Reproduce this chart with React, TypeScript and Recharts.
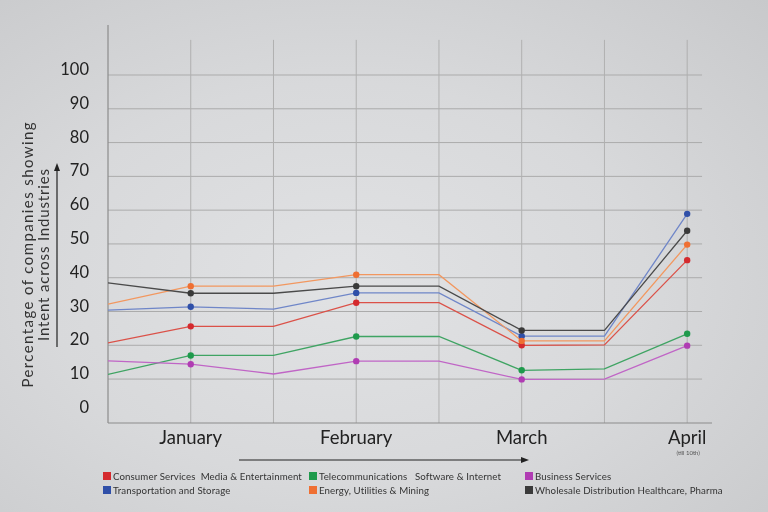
import { LineChart, Line, XAxis, YAxis, ReferenceLine } from 'recharts';

// x positions: 0 = axis start, odd = month, even = end of flat stretch
const xs = [0, 1, 2, 3, 4, 5, 6, 7];
const monthTicks = [1, 3, 5, 7];
const monthNames: Record<number, string> = { 1: 'January', 3: 'February', 5: 'March', 7: 'April' };
const yTicks = [0, 10, 20, 30, 40, 50, 60, 70, 80, 90, 100];
const gridValues = [10, 20, 30, 40, 50, 60, 70, 80, 90, 100];
const vGrid = [1, 2, 3, 4, 5, 6, 7];

const consumer = [20.7, 25.6, 25.6, 32.6, 32.6, 20, 20.1, 45.2];
const telecom = [11.4, 17, 17, 22.6, 22.6, 12.6, 13, 23.4];
const business = [15.4, 14.4, 11.5, 15.3, 15.3, 9.9, 10, 19.9];
const transport = [30.4, 31.4, 30.7, 35.5, 35.5, 22.7, 22.7, 58.9];
const energy = [32.2, 37.5, 37.5, 40.9, 40.9, 21.3, 21.3, 49.8];
const wholesale = [38.5, 35.4, 35.4, 37.5, 37.5, 24.4, 24.4, 53.9];

const series = [
  { key: 'consumer', name: 'Consumer Services  Media & Entertainment', values: consumer, line: '#db5148', dot: '#d42a2e' },
  { key: 'telecom', name: 'Telecommunications   Software & Internet', values: telecom, line: '#3fa463', dot: '#1f9a4c' },
  { key: 'business', name: 'Business Services', values: business, line: '#c065c6', dot: '#b03cb3' },
  { key: 'transport', name: 'Transportation and Storage', values: transport, line: '#6f86c8', dot: '#2f4fa8' },
  { key: 'energy', name: 'Energy, Utilities & Mining', values: energy, line: '#f2975f', dot: '#ef6f32' },
  { key: 'wholesale', name: 'Wholesale Distribution Healthcare, Pharma', values: wholesale, line: '#4a4a4a', dot: '#3a3a3a' },
];

const data = xs.map((x, i) => {
  const row: Record<string, number> = { x };
  series.forEach((s) => {
    row[s.key] = s.values[i];
  });
  return row;
});

const FONT = 'Lato, "Open Sans", sans-serif';

const MonthTick = ({ x, y, payload }: any) => (
  <g>
    <text x={x} y={y + 6} textAnchor="middle" dominantBaseline="central" fontSize={18.5} fill="#222" fontFamily={FONT}>
      {monthNames[payload.value]}
    </text>
    {payload.value === 7 && (
      <text x={x + 1} y={y + 21} textAnchor="middle" dominantBaseline="central" fontSize={6} fill="#555" fontFamily={FONT}>
        (till 10th)
      </text>
    )}
  </g>
);

const ValueTick = ({ y, payload }: any) => (
  <text x={89} y={y - 6} textAnchor="end" dominantBaseline="central" fontSize={16.5} fill="#222" fontFamily={FONT}>
    {payload.value}
  </text>
);

const YTitle = () => (
  <g fontFamily={FONT} fill="#333" fontSize={15}>
    <text transform="translate(27,255) rotate(-90)" textAnchor="middle" dominantBaseline="central" textLength={265} lengthAdjust="spacing">
      Percentage of companies  showing
    </text>
    <text transform="translate(43,255) rotate(-90)" textAnchor="middle" dominantBaseline="central" textLength={172} lengthAdjust="spacing">
      Intent across Industries
    </text>
    <line x1={57} y1={347} x2={57} y2={170} stroke="#222" strokeWidth={1.2} />
    <path d="M57,163 L54,171 L60,171 Z" fill="#222" />
  </g>
);

const XArrow = () => (
  <g>
    <line x1={239} y1={460} x2={521} y2={460} stroke="#222" strokeWidth={1.2} />
    <path d="M529,460 L521,457 L521,463 Z" fill="#222" />
  </g>
);

const legendPos = [
  { left: 103, top: 471 },
  { left: 309, top: 471 },
  { left: 525, top: 471 },
  { left: 103, top: 485 },
  { left: 309, top: 485 },
  { left: 525, top: 485 },
];

const LegendBox = () => (
  <div style={{ position: 'absolute', left: 0, top: 0, width: 768, height: 0 }}>
    {series.map((s, i) => (
      <div
        key={s.key}
        style={{
          position: 'absolute',
          left: legendPos[i].left,
          top: legendPos[i].top,
          display: 'flex',
          alignItems: 'center',
          whiteSpace: 'pre',
          fontFamily: FONT,
          fontSize: 9.7,
          letterSpacing: 0.1,
          color: '#333',
          lineHeight: '10px',
        }}
      >
        <span style={{ display: 'inline-block', width: 8, height: 8, background: s.dot, marginRight: 2 }} />
        {s.name}
      </div>
    ))}
  </div>
);

const makeDot = (color: string) => (props: any) => {
  const { cx, cy, index } = props;
  if (index % 2 === 0) return <g key={`d${index}`} />;
  return <circle key={`d${index}`} cx={cx} cy={cy} r={3.2} fill={color} stroke="none" />;
};

export default function App() {
  return (
    <div
      style={{
        position: 'fixed',
        left: 0,
        top: 0,
        width: 768,
        height: 512,
        background: 'radial-gradient(ellipse at 45% 55%, #e1e2e4 0%, #d8d9db 50%, #c8c9cb 100%)',
      }}
    >
      <LineChart width={768} height={512} data={data} margin={{ top: 25, right: 56, bottom: 59, left: 8 }}>
        <XAxis
          dataKey="x"
          type="number"
          domain={[0, 7.3]}
          ticks={monthTicks}
          allowDataOverflow
          height={30}
          tickLine={false}
          axisLine={{ stroke: '#8c8c8c', strokeWidth: 1.2 }}
          tick={<MonthTick />}
          label={{ content: <XArrow /> } as any}
        />
        <YAxis
          type="number"
          domain={[-3, 114.8]}
          ticks={yTicks}
          allowDataOverflow
          width={100}
          axisLine={false}
          tickLine={false}
          tick={<ValueTick />}
          label={{ content: <YTitle /> } as any}
        />
        {gridValues.map((v) => (
          <ReferenceLine
            key={`h${v}`}
            segment={[{ x: 0, y: v }, { x: 7.18, y: v }]}
            stroke="#ababab"
            strokeWidth={1}
            ifOverflow="visible"
          />
        ))}
        {vGrid.map((v) => (
          <ReferenceLine
            key={`v${v}`}
            segment={[{ x: v, y: -3 }, { x: v, y: 110.4 }]}
            stroke="#b0b0b0"
            strokeWidth={1}
            ifOverflow="visible"
          />
        ))}
        <ReferenceLine
          segment={[{ x: 0, y: -3 }, { x: 0, y: 114.8 }]}
          stroke="#8c8c8c"
          strokeWidth={1.2}
          ifOverflow="visible"
        />
        {series.map((s) => (
          <Line
            key={s.key}
            dataKey={s.key}
            name={s.name}
            type="linear"
            stroke={s.line}
            strokeWidth={1.3}
            dot={makeDot(s.dot)}
            activeDot={false}
            isAnimationActive={false}
          />
        ))}
      </LineChart>
      <LegendBox />
    </div>
  );
}
